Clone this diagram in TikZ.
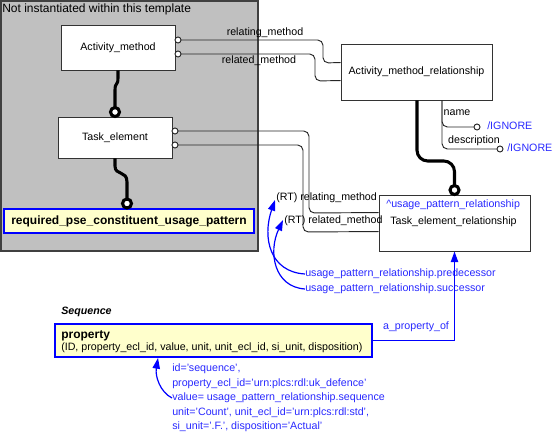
\documentclass[tikz,border=0pt]{standalone}
\usepackage{fontspec}
\setmainfont{Liberation Sans}
\usetikzlibrary{calc,arrows.meta}
\definecolor{tgray}{HTML}{C0C0C0}
\definecolor{pyel}{HTML}{FFFFCC}
\definecolor{ublue}{HTML}{0000FF}
\definecolor{tblue}{HTML}{2828FF}
\begin{document}
\begin{tikzpicture}[x=0.75pt,y=-0.75pt,
 box/.style={draw=black!80, line width=0.7pt, fill=white, inner sep=0pt, font=\fontsize{8}{10}\selectfont},
 ybox/.style={draw=ublue, line width=1.5pt, fill=pyel, inner sep=0pt},
 lbl/.style={font=\fontsize{8}{10}\selectfont, inner sep=0pt, text height=6pt, text depth=1.6pt},
 bl/.style={lbl, text=tblue},
 conn/.style={line width=0.7pt, draw=black!85, rounded corners=4pt},
 heavy/.style={line width=2.3pt, draw=black, rounded corners=6pt},
 ring/.style={line width=0.7pt, fill=white, draw=black!85},
 bigring/.style={line width=2.3pt, fill=white, draw=black},
 barrow/.style={draw=ublue, line width=0.9pt, -{Triangle[length=8pt,width=5.5pt]}}
]
\useasboundingbox (0,0) rectangle (552,434);
% template area
\node[draw=black!75, line width=0.8pt, fill=tgray, minimum width=192.75pt, minimum height=187.5pt, inner sep=0pt] (tmpl) at (129.5,126) {};
\node[font=\fontsize{9}{11}\selectfont, inner sep=0pt, anchor=west] (ttl) at (2,9) {Not instantiated within this template};
% boxes
\node[box, minimum width=85.5pt, minimum height=33.75pt] (am) at (118,47.5) {Activity\_method};
\node[box, minimum width=85.5pt, minimum height=30.75pt] (te) at (115,137.5) {Task\_element};
\node[ybox, minimum width=187.5pt, minimum height=18pt, font=\fontsize{9}{11}\selectfont\bfseries] (req) at (129,221) {required\_pse\_constituent\_usage\_pattern};
\node[box, minimum width=113.25pt, minimum height=42pt] (amr) at (416.5,72) {Activity\_method\_relationship};
\node[box, minimum width=113.25pt, minimum height=42pt] (ter) at (454.5,223) {};
\node[bl, anchor=west] (tert1) at (386,205) {\textasciicircum usage\_pattern\_relationship};
\node[lbl, anchor=west] (tert2) at (390,222) {Task\_element\_relationship};
\node[ybox, minimum width=237.75pt, minimum height=24.75pt] (prop) at (213.5,340.5) {};
\node[lbl, anchor=west, font=\fontsize{9}{11}\selectfont\bfseries] (propt1) at (61,335.5) {property};
\node[lbl, anchor=west] (propt2) at (61,348) {(ID, property\_ecl\_id, value, unit, unit\_ecl\_id, si\_unit, disposition)};
\node[lbl, anchor=west, font=\fontsize{8}{10}\selectfont\bfseries\itshape] (seq) at (61,312) {Sequence};
% small ring coordinates
\coordinate (am1) at (178,40);
\coordinate (am2) at (178,54);
\coordinate (te1) at (175,131);
\coordinate (te2) at (175,145);
% relating / related method (Activity_method -> Activity_method_relationship)
\draw[conn] (am1) -- (323,40) -- (323,63) -- ($(amr.north west)+(0,19)$);
\draw[conn] (am2) -- (315,54) -- (315,81) -- ($(amr.north west)+(0,37)$);
\node[lbl] (lrm) at (265,33) {relating\_method};
\node[lbl] (ldm) at (259,61) {related\_method};
% Task_element -> Task_element_relationship
\draw[conn] (te1) -- (309,131) -- (309,213) -- ($(ter.north west)+(0,18)$);
\draw[conn] (te2) -- (303,145) -- (303,232) -- ($(ter.north west)+(0,37)$);
\draw[ring] (am1) circle[radius=3];
\draw[ring] (am2) circle[radius=3];
\draw[ring] (te1) circle[radius=3];
\draw[ring] (te2) circle[radius=3];
\node[lbl, anchor=west] (rt1) at (276,198) {(RT) relating\_method};
\node[lbl, anchor=west] (rt2) at (284,221) {(RT) related\_method};
% heavy connectors
\coordinate (c1) at ($(te.north)+(0,-4.5)$);
\coordinate (c2) at ($(req.north)+(-2,-4.5)$);
\coordinate (c3) at ($(ter.north)+(0,-4.5)$);
\draw[line width=2.3pt] (am.south) -- (118,78) .. controls (118,86) and (115,82) .. (115,90) -- (c1);
\draw[line width=2.3pt] (te.south) -- (115,166) .. controls (115,176) and (127,170) .. (127,182) -- (c2);
\draw[heavy, rounded corners=8pt] ($(amr.south)+(0.5,0)$) -- (417,161) -- (454.5,161) -- (c3);
\draw[bigring] (c1) circle[radius=4.5];
\draw[bigring] (c2) circle[radius=4.5];
\draw[bigring] (c3) circle[radius=4.5];
% name / description
\coordinate (n1) at (477,127);
\coordinate (n2) at (500,149);
\draw[conn] ($(amr.south)+(25.5,0)$) -- (442,127) -- (n1);
\draw[conn] ($(amr.south)+(25.5,0)$) -- (442,149) -- (n2);
\draw[ring] (n1) circle[radius=3];
\draw[ring] (n2) circle[radius=3];
\node[lbl] (lname) at (457,113) {name};
\node[lbl] (ldesc) at (474,141) {description};
\node[bl, anchor=west] (ig1) at (487,127) {/IGNORE};
\node[bl, anchor=west] (ig2) at (507,149) {/IGNORE};
% blue references
\node[bl, anchor=west] (pred) at (305,274) {usage\_pattern\_relationship.predecessor};
\node[bl, anchor=west] (succ) at (305,289) {usage\_pattern\_relationship.successor};
\draw[barrow] (pred.west) .. controls (270,272) and (262,238) .. ($(rt1.west)+(-1,2)$);
\draw[barrow] (succ.west) .. controls (274,287) and (268,252) .. ($(rt2.west)+(-1,-1)$);
% a_property_of
\draw[barrow] (prop.east) -- (prop.east -| ter.south) -- (ter.south);
\node[bl] (apo) at (416,327) {a\_property\_of};
% value assignments
\node[bl, anchor=west] (v1) at (172,369) {id='sequence',};
\node[bl, anchor=west] (v2) at (172,383.5) {property\_ecl\_id='urn:plcs:rdl:uk\_defence'};
\node[bl, anchor=west] (v3) at (172,398) {value= usage\_pattern\_relationship.sequence};
\node[bl, anchor=west] (v4) at (172,412.5) {unit='Count', unit\_ecl\_id='urn:plcs:rdl:std',};
\node[bl, anchor=west] (v5) at (172,427) {si\_unit='.F.', disposition='Actual'};
\coordinate (ptip) at ($(prop.south)+(-55.5,0)$);
\draw[barrow] (v3.west) .. controls (160,392) and (155,376) .. (ptip);
\end{tikzpicture}
\end{document}
